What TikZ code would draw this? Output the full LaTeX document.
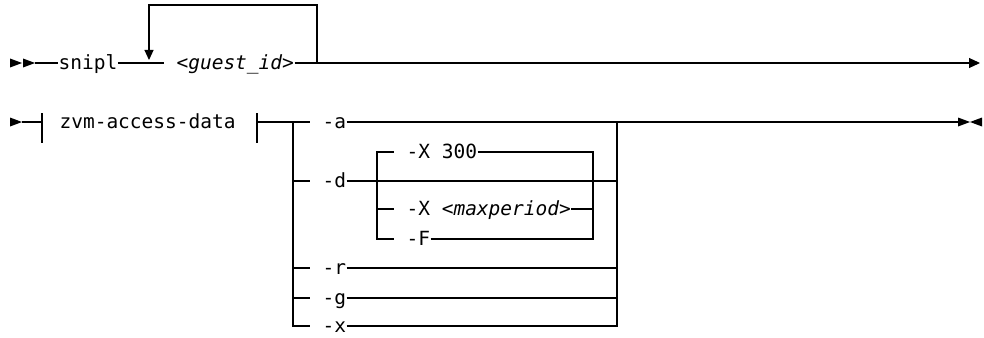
\documentclass[tikz,border=0pt]{standalone}
\usepackage{fontspec}
\setmonofont{DejaVu Sans Mono}
\usetikzlibrary{arrows.meta}
\newcommand{\railfont}{\ttfamily\fontsize{19.5}{22}\selectfont}

\begin{document}
\begin{tikzpicture}[x=1pt,y=-1pt,line width=1.1pt,
  kw/.style={inner sep=0pt,text height=15pt,text depth=3pt,anchor=west,font=\railfont},
  var/.style={kw,font=\railfont\itshape},
  gap/.style={shorten >=12pt},
  tip/.style={-{Triangle[length=11pt,width=10pt]}},
  trir/.pic={\fill (0,-4.5) -- (12,0) -- (0,4.5) -- cycle;},
  tril/.pic={\fill (0,-4.5) -- (-12,0) -- (0,4.5) -- cycle;}]

\useasboundingbox (0,0) rectangle (984,337);

% first line
\pic at (10,63) {trir};
\pic at (23,63) {trir};
\coordinate (s1) at (35,63);
\node[kw] (snipl) at (58,63) {snipl};
\node[var] (guest) at (176,63) {<guest\_id>};
\coordinate (rep) at (317,63);
\coordinate (back) at (149,60);
\coordinate (e1) at (980,63);

\draw (s1) -- (snipl.west);
\draw[gap] (snipl.east) -- (guest.west);
\draw[tip] (guest.east) -- (e1);
\draw[-{Triangle[length=10pt,width=9pt]}] (rep) -- ++(0,-58) -| (back);

% second line
\pic at (10,122) {trir};
\coordinate (s2) at (22,122);
\coordinate (barl) at (42,122);
\node[kw] (zvm) at (59,122) {zvm-access-data};
\coordinate (barr) at (257,122);
\coordinate (chl) at (293,122);
\coordinate (chr) at (617,122);
\coordinate (e2) at (958,122);

\draw (s2) -- (barl);
\draw (barl) ++(0,-9) -- ++(0,30);
\draw (barr) ++(0,-9) -- ++(0,30);

\node[kw] (a) at (322,122) {-a};
\node[kw] (d) at (322,181) {-d};
\node[kw] (r) at (322,268) {-r};
\node[kw] (g) at (322,298) {-g};
\node[kw] (x) at (322,326) {-x};

\draw[gap] (barr) -- (a.west);
\draw[gap] (chl) |- (x.west);
\foreach \o in {d,r,g}
  \draw[gap] (chl |- \o.west) -- (\o.west);
\draw (a.east) -- (chr) -- (e2);
\draw (x.east) -| (chr);
\foreach \o in {d,r,g}
  \draw (\o.east) -- (chr |- \o.east);

% options of -d
\coordinate (nl) at (377,181);
\coordinate (nr) at (593,181);
\node[kw] (x300) at (406,152) {-X 300};
\node[kw] (xmax) at (406,209) {-X \textit{<maxperiod>}};
\node[kw] (f) at (406,239) {-F};

\draw[gap] (nl) |- (x300.west);
\draw[gap] (nl) |- (f.west);
\draw[gap] (nl |- xmax.west) -- (xmax.west);
\draw (x300.east) -| (nr);
\draw (f.east) -| (nr);
\draw (xmax.east) -- (nr |- xmax.east);

\pic at (958,122) {trir};
\pic at (982,122) {tril};

\end{tikzpicture}
\end{document}
